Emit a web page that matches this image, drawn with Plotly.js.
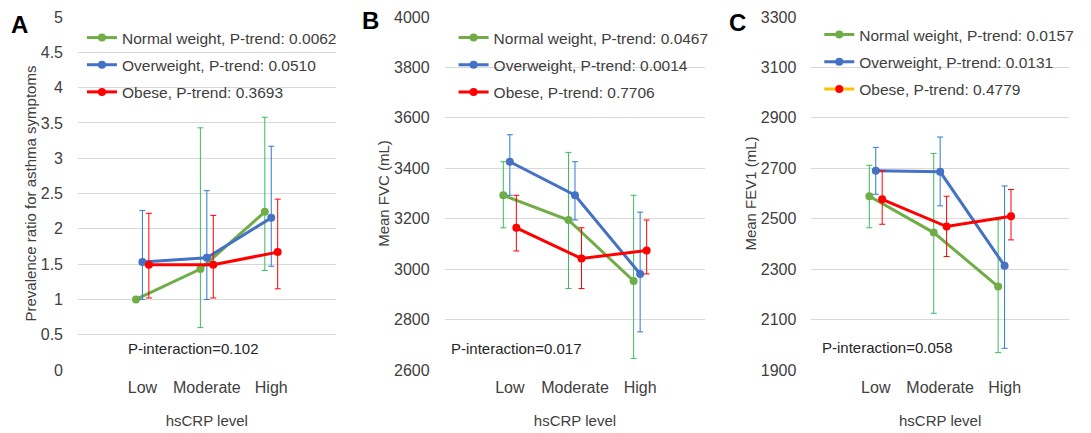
<!DOCTYPE html>
<html>
<head>
<meta charset="utf-8">
<script src="https://cdn.plot.ly/plotly-3.0.1.min.js"></script>
<style>html,body{margin:0;padding:0;background:#fff}#chart{width:1091px;height:433px}</style>
</head>
<body>
<div id="chart"></div>
<script>
// ---- data ----
const categories = ['Low', 'Moderate', 'High'];
const groups = ['Normal weight', 'Overweight', 'Obese'];

// Panel A: prevalence ratio for asthma symptoms
const prNormal = [1.00, 1.43, 2.24];
const prNormalUpper = [null, 3.43, 3.58];
const prNormalLower = [null, 0.60, 1.41];
const prOver = [1.53, 1.59, 2.155];
const prOverUpper = [2.26, 2.54, 3.17];
const prOverLower = [1.00, 1.00, 1.47];
const prObese = [1.49, 1.49, 1.67];
const prObeseUpper = [2.22, 2.19, 2.42];
const prObeseLower = [1.02, 1.02, 1.15];
const pTrendA = ['0.0062', '0.0510', '0.3693'];
const pInteractionA = '0.102';

// Panel B: mean FVC (mL)
const fvcNormal = [3293, 3195, 2953];
const fvcNormalUpper = [3426, 3463, 3293];
const fvcNormalLower = [3164, 2923, 2646];
const fvcOver = [3426, 3293, 2981];
const fvcOverUpper = [3533, 3426, 3226];
const fvcOverLower = [3293, 3195, 2751];
const fvcObese = [3164, 3042, 3074];
const fvcObeseUpper = [3293, 3164, 3195];
const fvcObeseLower = [3072, 2923, 2981];
const pTrendB = ['0.0467', '0.0014', '0.7706'];
const pInteractionB = '0.017';

// Panel C: mean FEV1 (mL)
const fevNormal = [2589, 2445, 2231];
const fevNormalUpper = [2712, 2759, 2495];
const fevNormalLower = [2464, 2125, 1969];
const fevOver = [2690, 2686, 2313];
const fevOverUpper = [2783, 2824, 2630];
const fevOverLower = [2597, 2551, 1986];
const fevObese = [2577, 2469, 2510];
const fevObeseUpper = [2690, 2589, 2616];
const fevObeseLower = [2478, 2350, 2416];
const pTrendC = ['0.0157', '0.0131', '0.4779'];
const pInteractionC = '0.058';

// ---- styles ----
const FONT = 'Liberation Sans, Arial, sans-serif';
const lineColors = ['#70AD47', '#4472C4', '#FF0000'];
const errColors = ['#3DBB5F', '#2E7BCF', '#FF0000'];
const offsets = [-0.1, 0, 0.1];

const panels = [
  {ax: '', leg: 'legend', p: pTrendA,
   v: [prNormal, prOver, prObese],
   u: [prNormalUpper, prOverUpper, prObeseUpper],
   l: [prNormalLower, prOverLower, prObeseLower]},
  {ax: '2', leg: 'legend2', p: pTrendB,
   v: [fvcNormal, fvcOver, fvcObese],
   u: [fvcNormalUpper, fvcOverUpper, fvcObeseUpper],
   l: [fvcNormalLower, fvcOverLower, fvcObeseLower]},
  {ax: '3', leg: 'legend3', p: pTrendC,
   v: [fevNormal, fevOver, fevObese],
   u: [fevNormalUpper, fevOverUpper, fevObeseUpper],
   l: [fevNormalLower, fevOverLower, fevObeseLower]}
];

const traces = [];
panels.forEach((pn, pi) => {
  groups.forEach((g, gi) => {
    const vals = pn.v[gi];
    const legendOnlyObeseC = (pi === 2 && gi === 2);
    traces.push({
      type: 'scatter', mode: 'lines+markers',
      name: g + ', P-trend: ' + pn.p[gi],
      x: categories.map((c, i) => i + 1 + offsets[gi]),
      y: vals,
      xaxis: 'x' + pn.ax, yaxis: 'y' + pn.ax,
      legend: pn.leg, legendgroup: pn.leg + gi,
      showlegend: !legendOnlyObeseC,
      line: {color: lineColors[gi], width: 3},
      marker: {color: lineColors[gi], size: 8},
      error_y: {
        type: 'data', symmetric: false,
        array: vals.map((v, i) => pn.u[gi][i] == null ? null : pn.u[gi][i] - v),
        arrayminus: vals.map((v, i) => pn.l[gi][i] == null ? null : v - pn.l[gi][i]),
        color: errColors[gi], thickness: 1, width: 3
      },
      hoverinfo: 'x+y'
    });
    if (legendOnlyObeseC) {
      // legend entry as drawn in the original panel C (yellow line, red marker)
      traces.push({
        type: 'scatter', mode: 'lines+markers',
        name: g + ', P-trend: ' + pn.p[gi],
        x: [null], y: [null],
        xaxis: 'x3', yaxis: 'y3', legend: 'legend3', legendgroup: pn.leg + gi,
        line: {color: '#FFC000', width: 3},
        marker: {color: '#FF0000', size: 8}
      });
    }
  });
});

const W = 1000; // plot width in px (1091 - l - r)
const px = v => (v - 78) / W;
const py = v => (370 - v) / 353;

function xax(dom) {
  return {domain: dom, range: [0, 4], tickvals: [1, 2, 3], ticktext: categories,
    showgrid: false, zeroline: false, showline: false, ticks: '', fixedrange: true,
    tickfont: {family: FONT, size: 16, color: '#404040'}, ticklabelstandoff: 6,
    title: {text: 'hsCRP level', font: {family: FONT, size: 15, color: '#404040'}, standoff: 20}};
}
function yax(rng, dt, title, anchor, standoff) {
  return {domain: [0, 1], range: rng, dtick: dt, tick0: rng[0], anchor: anchor,
    showgrid: true, gridcolor: '#D9D9D9', gridwidth: 1, zeroline: false, showline: false,
    ticks: '', fixedrange: true, ticklabelstandoff: 14,
    tickfont: {family: FONT, size: 16, color: '#404040'},
    title: {text: title, font: {family: FONT, size: 15, color: '#404040'}, standoff: standoff}};
}

function legend(x, y) {
  return {x: x, y: y, xanchor: 'left', yanchor: 'top', bgcolor: 'rgba(0,0,0,0)',
    font: {family: FONT, size: 15.5, color: '#404040'}, tracegroupgap: 4, itemwidth: 30};
}

const annFont = {family: FONT, size: 15, color: '#262626'};
const letterFont = {family: FONT, size: 24, color: '#000', weight: 'bold'};
function ann(text, x, y, font) {
  return {text: text, x: px(x), y: py(y), xref: 'paper', yref: 'paper',
    xanchor: 'center', yanchor: 'middle', showarrow: false, font: font};
}

const layout = {
  width: 1091, height: 433,
  margin: {l: 78, r: 13, t: 17, b: 63},
  paper_bgcolor: '#fff', plot_bgcolor: '#fff',
  showlegend: true,
  xaxis: xax([0, 0.26]),
  xaxis2: xax([0.37, 0.633]),
  xaxis3: xax([0.74, 1.0]),
  yaxis: yax([0, 5], 0.5, 'Prevalence ratio for asthma symptoms', 'x', 0),
  yaxis2: yax([2600, 4000], 200, 'Mean FVC (mL)', 'x2', 0),
  yaxis3: yax([1900, 3300], 200, 'Mean FEV1 (mL)', 'x3', 0),
  legend: legend(px(82), py(21)),
  legend2: legend(px(457), py(21)),
  legend3: legend(px(826), py(18)),
  annotations: [
    ann('A', 19, 24, letterFont),
    ann('B', 373, 20, letterFont),
    ann('C', 743, 22, letterFont),
    ann('P-interaction=' + pInteractionA, 195, 348, annFont),
    ann('P-interaction=' + pInteractionB, 520, 348, annFont),
    ann('P-interaction=' + pInteractionC, 895, 347, annFont)
  ]
};

Plotly.newPlot('chart', traces, layout, {displayModeBar: false, staticPlot: true});
</script>
</body>
</html>
